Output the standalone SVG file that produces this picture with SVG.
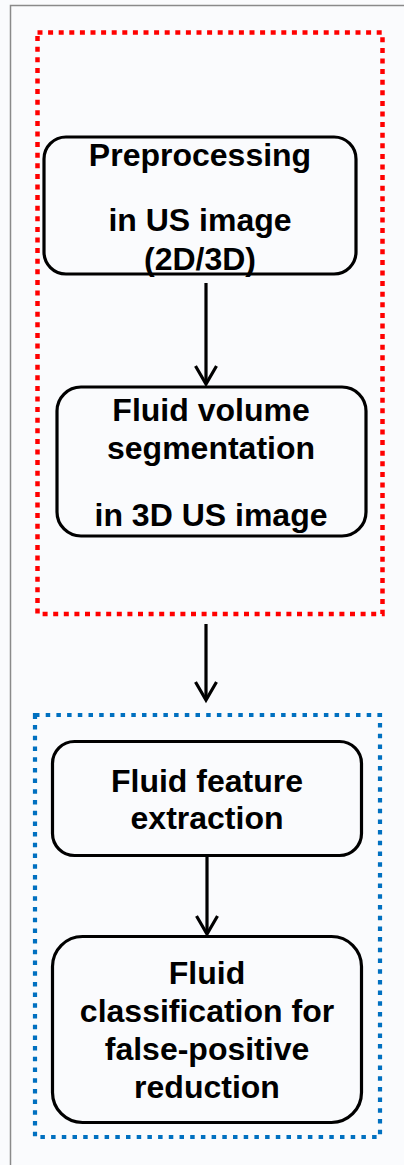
<svg xmlns="http://www.w3.org/2000/svg" width="404" height="1165" viewBox="0 0 404 1165">
<style>
.node{fill:none;stroke:#000;stroke-width:3.2}
.t{font-family:"Liberation Sans",Arial,sans-serif;font-weight:bold;font-size:32px;fill:#000;text-anchor:middle}
.con{stroke:#000;stroke-width:3.2;fill:none}
.head{stroke:#000;stroke-width:3.2;fill:none;stroke-linejoin:miter}
</style>
<rect x="0" y="0" width="404" height="1165" fill="#fafbfd"/>
<path d="M10.5 1165 V5.5 H404" fill="none" stroke="#8a8a8a" stroke-width="1.5"/>
<g id="group-red">
<rect x="37.5" y="32.5" width="345" height="581.5" fill="none" stroke="#ff0000" stroke-width="4.5" stroke-dasharray="5 5.6"/>
</g>
<g id="group-blue">
<rect x="35" y="715" width="345" height="422" fill="none" stroke="#0070c0" stroke-width="4.2" stroke-dasharray="4.5 6.2"/>
</g>
<g id="connectors">
<line class="con" x1="206" y1="283" x2="206" y2="383"/>
<polyline class="head" points="195.5,366 206,384 216.5,366"/>
<line class="con" x1="206" y1="624" x2="206" y2="699"/>
<polyline class="head" points="195.5,682 206,700 216.5,682"/>
<line class="con" x1="207" y1="857" x2="207" y2="933"/>
<polyline class="head" points="196.5,916 207,934 217.5,916"/>
</g>
<g id="node-preprocessing">
<rect class="node" x="44" y="137" width="312" height="137" rx="22"/>
<text class="t" x="200" y="166">Preprocessing</text>
<text class="t" x="200" y="231">in US image</text>
<text class="t" x="200" y="270">(2D/3D)</text>
</g>
<g id="node-segmentation">
<rect class="node" x="57" y="387" width="309" height="149" rx="24"/>
<text class="t" x="211" y="421">Fluid volume</text>
<text class="t" x="211" y="459">segmentation</text>
<text class="t" x="211" y="526">in 3D US image</text>
</g>
<g id="node-feature">
<rect class="node" x="52.5" y="741.5" width="309" height="114" rx="22"/>
<text class="t" x="207" y="792">Fluid feature</text>
<text class="t" x="207" y="829">extraction</text>
</g>
<g id="node-classification">
<rect class="node" x="52.5" y="936.5" width="309" height="186" rx="30"/>
<text class="t" x="207" y="984">Fluid</text>
<text class="t" x="207" y="1022">classification for</text>
<text class="t" x="207" y="1060">false-positive</text>
<text class="t" x="207" y="1098">reduction</text>
</g>
</svg>
